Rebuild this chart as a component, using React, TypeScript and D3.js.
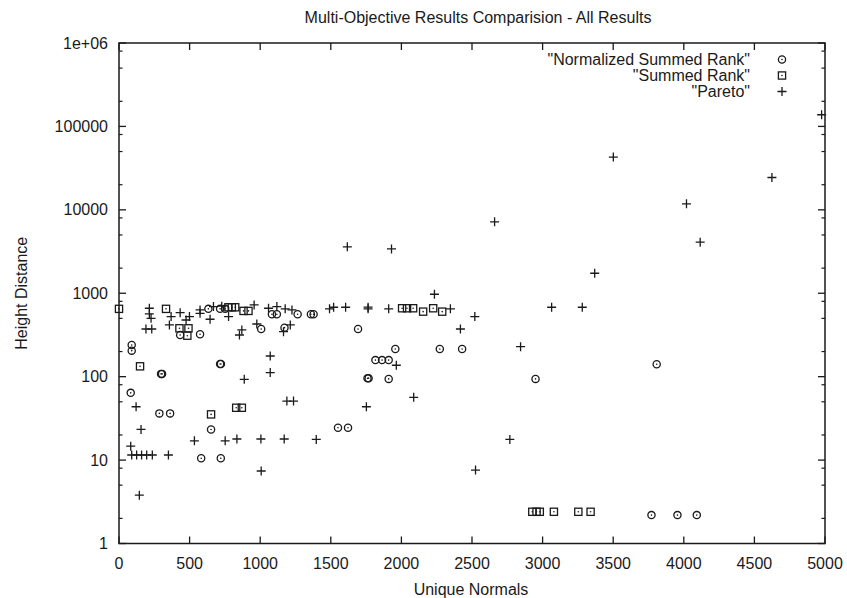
import React from "react";
import * as d3 from "d3";

const normRankX = [90, 90, 83, 298, 305, 286, 362, 433, 574, 633, 716, 752, 716, 722, 652, 582, 721, 1007, 1083, 1118, 1172, 1265, 1359, 1378, 1693, 1551, 1622, 1760, 1768, 1910, 1816, 1863, 1910, 1957, 2272, 2430, 2950, 3808, 3771, 3955, 4092];
const normRankY = [240, 205, 64, 108, 108, 36.3, 36.3, 316, 322, 650, 650, 650, 142, 142, 23.3, 10.5, 10.5, 373, 560, 560, 387, 560, 560, 560, 373, 24.4, 24.4, 95.5, 96, 94, 158, 158, 158, 215, 215, 215, 94, 141, 2.19, 2.19, 2.19];

const summedRankX = [0, 333, 428, 492, 484, 149, 652, 830, 870, 775, 799, 823, 882, 917, 2005, 2040, 2083, 2154, 2225, 2289, 2927, 2957, 2980, 3080, 3253, 3340];
const summedRankY = [650, 650, 380, 380, 310, 133, 35.3, 42.4, 42.4, 679, 679, 679, 614, 614, 661, 661, 661, 602, 661, 602, 2.4, 2.4, 2.4, 2.4, 2.4, 2.4];

const paretoX = [215, 215, 227, 191, 232, 369, 357, 433, 475, 499, 574, 574, 645, 669, 728, 776, 957, 976, 870, 853, 1059, 1118, 1225, 1165, 1213, 1071, 1071, 887, 1189, 1236, 121, 156, 83, 534, 752, 835, 1005, 1170, 90, 125, 160, 196, 236, 350, 144, 1007, 1177, 1491, 1520, 1605, 1764, 1764, 1910, 2347, 2234, 2520, 2418, 1964, 2087, 1752, 1397, 2525, 3369, 3064, 3281, 2844, 2768, 4976, 3501, 4624, 4019, 4116, 1617, 1930, 2660];
const paretoY = [661, 565, 501, 373, 373, 525, 417, 585, 478, 525, 631, 575, 488, 692, 700, 525, 724, 428, 363, 316, 661, 692, 631, 346, 417, 177, 112, 93, 51, 51, 43.6, 23.3, 14.7, 17, 17, 17.9, 17.9, 17.9, 11.5, 11.5, 11.5, 11.5, 11.5, 11.5, 3.8, 7.4, 650, 650, 679, 679, 650, 680, 650, 650, 973, 525, 373, 137, 56.5, 43.6, 17.7, 7.6, 1738, 679, 679, 229, 17.7, 138000, 42900, 24400, 11800, 4100, 3600, 3400, 7180];

const xTicks = [0, 500, 1000, 1500, 2000, 2500, 3000, 3500, 4000, 4500, 5000];
const yTicks = [1, 10, 100, 1000, 10000, 100000, 1000000];
const yTickLabels = ["1", "10", "100", "1000", "10000", "100000", "1e+06"];
const legendLabels = ['"Normalized Summed Rank"', '"Summed Rank"', '"Pareto"'];

const W = 847, H = 598;
const L = 119, R = 825, T = 43, B = 543.5;
const FONT = "'Liberation Sans', Arial, Helvetica, sans-serif";
const INK = "#1a1a1a";

function Circle({ x, y }: { x: number; y: number }) {
  return (
    <g>
      <circle cx={x} cy={y} r={3.6} fill="none" stroke={INK} strokeWidth={1.3} />
      <circle cx={x} cy={y} r={0.8} fill={INK} />
    </g>
  );
}
function Square({ x, y }: { x: number; y: number }) {
  return (
    <g>
      <rect x={x - 3.6} y={y - 3.6} width={7.2} height={7.2} fill="none" stroke={INK} strokeWidth={1.3} />
      <circle cx={x} cy={y} r={0.8} fill={INK} />
    </g>
  );
}
function Plus({ x, y }: { x: number; y: number }) {
  return (
    <path d={`M${x - 4.5},${y}H${x + 4.5}M${x},${y - 4.5}V${y + 4.5}`} stroke={INK} strokeWidth={1.3} />
  );
}

export default function App() {
  const xs = d3.scaleLinear().domain([0, 5000]).range([L, R]);
  const ys = d3.scaleLog().domain([1, 1000000]).range([B, T]);
  const minor: number[] = [];
  for (let d = 1; d < 1000000; d *= 10) {
    [2, 5, 8].forEach((m) => minor.push(d * m));
  }
  return (
    <svg width={W} height={H} style={{ display: "block", position: "absolute", left: 0, top: 0, background: "#fff" }}>
      <rect x={0} y={0} width={W} height={H} fill="#fff" />
      <text x={478} y={23} textAnchor="middle" fontFamily={FONT} fontSize={16} fill={INK}>
        Multi-Objective Results Comparision - All Results
      </text>
      {xTicks.map((t) => (
        <g key={"x" + t}>
          <line x1={xs(t)} x2={xs(t)} y1={B} y2={B - 7} stroke={INK} strokeWidth={1.3} />
          <line x1={xs(t)} x2={xs(t)} y1={T} y2={T + 7} stroke={INK} strokeWidth={1.3} />
          <text x={xs(t)} y={569} textAnchor="middle" fontFamily={FONT} fontSize={16} fill={INK}>
            {t}
          </text>
        </g>
      ))}
      {yTicks.map((t, i) => (
        <g key={"y" + t}>
          <line x1={L} x2={L + 7} y1={ys(t)} y2={ys(t)} stroke={INK} strokeWidth={1.3} />
          <line x1={R} x2={R - 7} y1={ys(t)} y2={ys(t)} stroke={INK} strokeWidth={1.3} />
          <text x={L - 11} y={ys(t) + 5.5} textAnchor="end" fontFamily={FONT} fontSize={16} fill={INK}>
            {yTickLabels[i]}
          </text>
        </g>
      ))}
      {minor.map((t) => (
        <g key={"m" + t}>
          <line x1={L} x2={L + 3.5} y1={ys(t)} y2={ys(t)} stroke={INK} strokeWidth={1.2} />
          <line x1={R} x2={R - 3.5} y1={ys(t)} y2={ys(t)} stroke={INK} strokeWidth={1.2} />
        </g>
      ))}
      <rect x={L} y={T} width={R - L} height={B - T} fill="none" stroke={INK} strokeWidth={1.5} />
      <text x={471} y={595} textAnchor="middle" fontFamily={FONT} fontSize={16} fill={INK}>
        Unique Normals
      </text>
      <text transform={`translate(27,${(T + B) / 2}) rotate(-90)`} textAnchor="middle" fontFamily={FONT} fontSize={16} fill={INK}>
        Height Distance
      </text>
      {legendLabels.map((lab, i) => {
        const ly = [59.5, 75.5, 91.5][i];
        return (
          <g key={lab}>
            <text x={750} y={ly + 5.5} textAnchor="end" fontFamily={FONT} fontSize={16} fill={INK}>
              {lab}
            </text>
            {i === 0 && <Circle x={782} y={ly} />}
            {i === 1 && <Square x={782} y={ly} />}
            {i === 2 && <Plus x={782} y={ly} />}
          </g>
        );
      })}
      {normRankX.map((v, i) => (
        <Circle key={"c" + i} x={xs(v)} y={ys(normRankY[i])} />
      ))}
      {summedRankX.map((v, i) => (
        <Square key={"s" + i} x={xs(v)} y={ys(summedRankY[i])} />
      ))}
      {paretoX.map((v, i) => (
        <Plus key={"p" + i} x={xs(v)} y={ys(paretoY[i])} />
      ))}
    </svg>
  );
}
